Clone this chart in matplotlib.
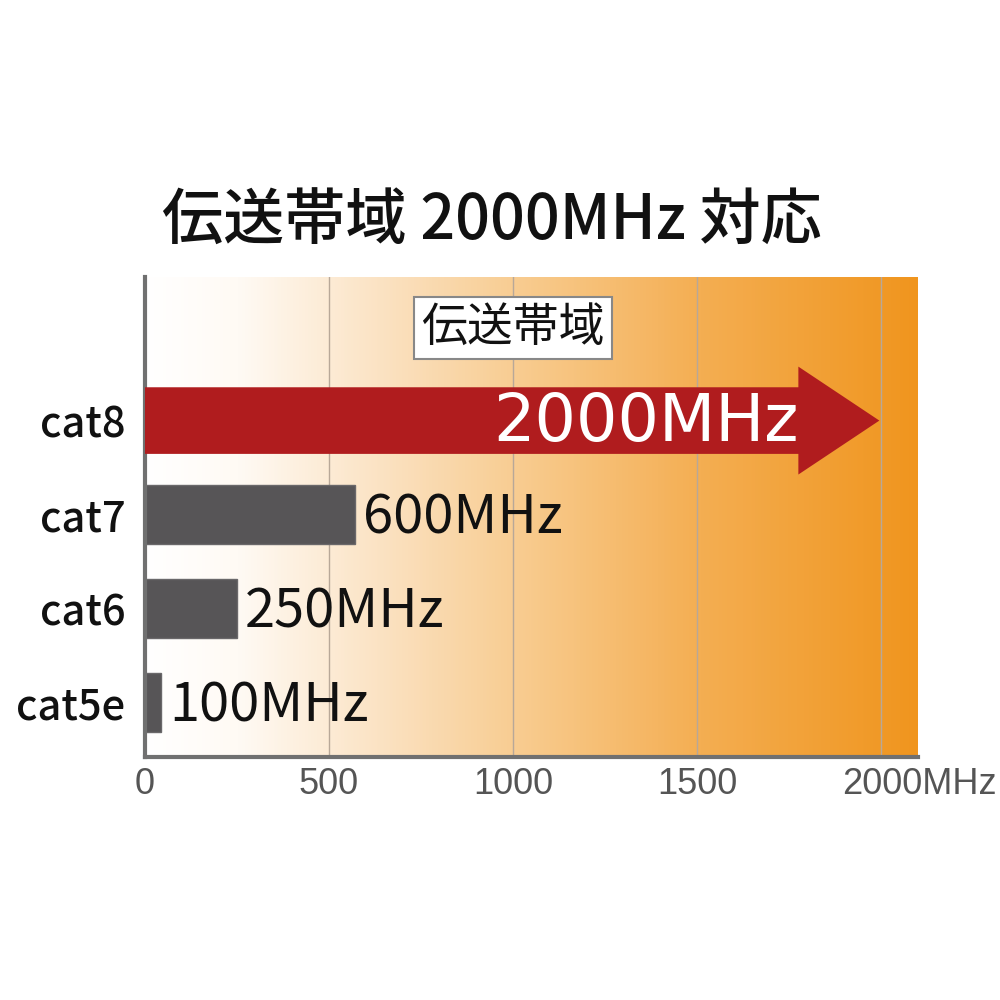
import matplotlib
matplotlib.use('Agg')
import numpy as np
from matplotlib import pyplot as plt
from matplotlib.colors import LinearSegmentedColormap
from matplotlib.patches import FancyArrow
from matplotlib.transforms import ScaledTranslation

plt.rcParams['font.family'] = ['Noto Sans CJK JP', 'DejaVu Sans']

# data (bar lengths as drawn, labels as printed)
categories = ['cat5e', 'cat6', 'cat7']
bar_lengths = [44, 250, 571]
bar_labels = ['100MHz', '250MHz', '600MHz']
arrow_category = 'cat8'
arrow_length = 1995
arrow_label = '2000MHz'
tick_values = [0, 500, 1000, 1500, 2000]
tick_labels = ['0', '500', '1000', '1500', '2000MHz']
title = '伝送帯域 2000MHz 対応'
box_label = '伝送帯域'

fig = plt.figure(figsize=(10, 10), dpi=100)
ax = fig.add_axes([0.145, 0.243, 0.773, 0.48])
ax.set_xlim(0, 2100)
ax.set_ylim(-0.585, 4.53)

# background gradient white -> orange
cmap = LinearSegmentedColormap.from_list(
    'bg', [(0.0, '#ffffff'), (0.12, '#fffaf4'), (0.3, '#fbe3c4'),
           (0.5, '#f8ca8c'), (0.72, '#f4ae52'), (1.0, '#f0951e')])
grad = np.linspace(0, 1, 512).reshape(1, -1)
ax.imshow(grad, cmap=cmap, aspect='auto', extent=[0, 2100, -0.585, 4.53],
          zorder=0)

for v in tick_values[1:]:
    ax.axvline(v, color='#b8a898', lw=1, zorder=1)

# gray bars
ypos = np.arange(len(categories))
ax.barh(ypos, bar_lengths, height=0.63, color='#575557', edgecolor='#6a686a',
        lw=1, zorder=2)
for y, w, lab in zip(ypos, bar_lengths, bar_labels):
    ax.text(w + 22, y - 0.04, lab, fontsize=39, va='center', ha='left',
            color='#111111', zorder=3)

# red arrow for cat8
y8 = len(categories)
arr = FancyArrow(0, y8, arrow_length, 0, width=0.71, head_width=1.15,
                 head_length=220, length_includes_head=True,
                 color='#b01c1e', lw=0, zorder=3)
ax.add_patch(arr)
ax.text(1775, y8 - 0.03, arrow_label, fontsize=47, color='white', ha='right',
        va='center', family=['DejaVu Sans'], zorder=4)

ax.set_yticks(list(ypos) + [y8])
ax.set_yticklabels(categories + [arrow_category], fontsize=30, color='#111111',
                   fontweight='medium')
ax.tick_params(axis='y', length=0, pad=14)

ax.set_xticks(tick_values)
ax.set_xticklabels(tick_labels, fontsize=26, color='#555555',
                   family=['Liberation Sans', 'DejaVu Sans'])
ax.tick_params(axis='x', length=0, pad=7)
# last label: keep the number centred on its tick, unit hanging to the right
last = ax.get_xticklabels()[-1]
last.set_horizontalalignment('left')
last.set_transform(last.get_transform() +
                   ScaledTranslation(-0.39, 0, fig.dpi_scale_trans))

for s in ['top', 'right']:
    ax.spines[s].set_visible(False)
for s in ['left', 'bottom']:
    ax.spines[s].set_color('#707070')
    ax.spines[s].set_linewidth(3)

ax.text(1000, 3.99, box_label, fontsize=33, ha='center', va='center',
        color='#111111', zorder=4,
        bbox=dict(boxstyle='square,pad=0.15', fc='white', ec='#888888', lw=1.5))

fig.text(0.492, 0.778, title, fontsize=44, ha='center', va='center',
         color='#111111', fontweight='medium')

fig.savefig('out.png', dpi=100)
